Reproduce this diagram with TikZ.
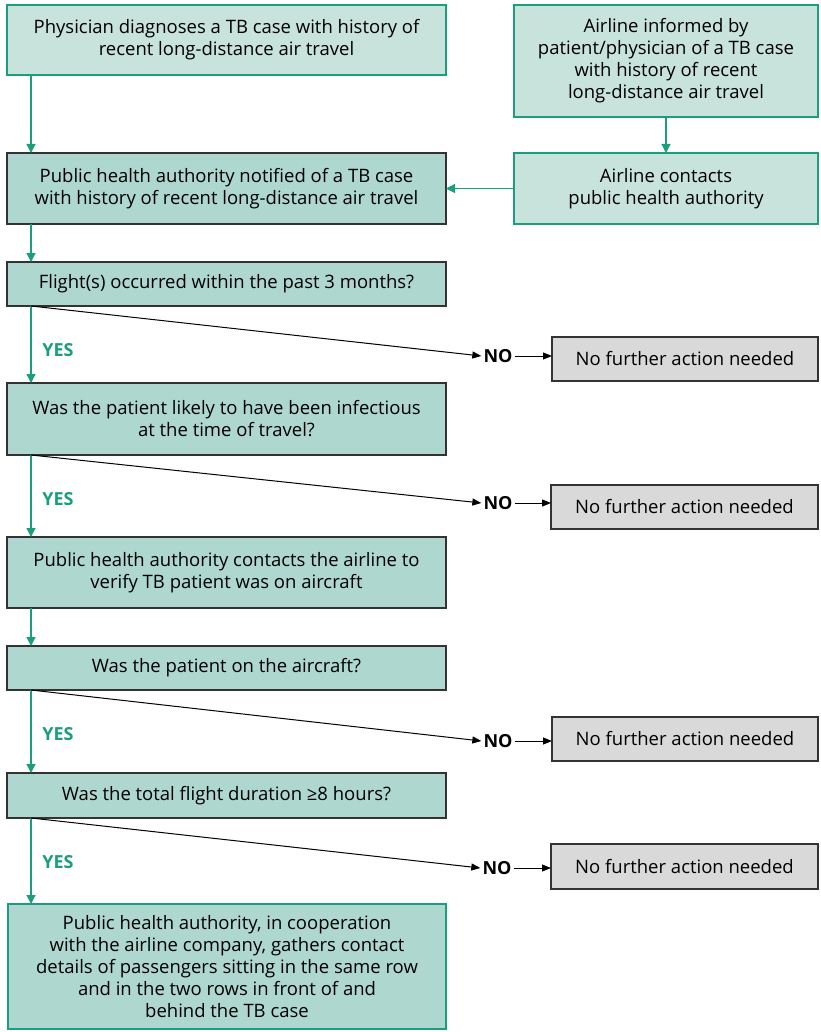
\documentclass[tikz,border=0pt]{standalone}
\usepackage{fontspec}
\setmainfont{Open Sans}
\usepackage{tikz}
\usetikzlibrary{arrows.meta,positioning}
\definecolor{tealline}{RGB}{26,158,126}
\definecolor{palefill}{RGB}{200,227,220}
\definecolor{midfill}{RGB}{174,216,207}
\definecolor{greyfill}{RGB}{217,217,217}
\definecolor{darkline}{RGB}{51,51,51}

\begin{document}
\begin{tikzpicture}[x=1pt,y=-1pt,
    box/.style={rectangle,anchor=north west,align=center,inner sep=0pt,outer sep=0pt,line width=1.4pt,font=\fontsize{18.5}{22}\selectfont},
    inbox/.style={box,draw=tealline,fill=palefill},
    stepbox/.style={box,draw=darkline,fill=midfill},
    endbox/.style={box,draw=darkline,fill=greyfill},
    yarr/.style={draw=tealline,line width=1.2pt,-{Triangle[length=9pt,width=9pt]}},
    narr/.style={draw=black,line width=1pt,-{Triangle[length=9pt,width=7pt]}},
    yes/.style={text=tealline,font=\fontsize{18}{20}\selectfont\bfseries},
    no/.style={text=black,font=\fontsize{18}{20}\selectfont\bfseries,inner sep=2pt}]
   \useasboundingbox (0,0) rectangle (820,1032);
   \coordinate (col) at (31,0);
   % left column
   \node [inbox,minimum width=439,minimum height=70] (phys) at (7,5) {Physician diagnoses a TB case with history of\\recent long-distance air travel};
   \node [stepbox,minimum width=439,minimum height=71] (pha) at (7,153) {Public health authority notified of a TB case\\with history of recent long-distance air travel};
   \node [stepbox,minimum width=439,minimum height=44] (q1) at (7,262) {Flight(s) occurred within the past 3 months?};
   \node [stepbox,minimum width=439,minimum height=72] (q2) at (7,383) {Was the patient likely to have been infectious\\at the time of travel?};
   \node [stepbox,minimum width=439,minimum height=71] (q3) at (7,537) {Public health authority contacts the airline to\\verify TB patient was on aircraft};
   \node [stepbox,minimum width=439,minimum height=44] (q4) at (7,646) {Was the patient on the aircraft?};
   \node [stepbox,minimum width=439,minimum height=45] (q5) at (7,773) {Was the total flight duration ≥8 hours?};
   \node [box,draw=tealline,fill=midfill,line width=2.4pt,minimum width=438,minimum height=125] (final) at (8,904) {Public health authority, in cooperation\\with the airline company, gathers contact\\details of passengers sitting in the same row\\and in the two rows in front of and\\behind the TB case};
   % right column
   \node [inbox,minimum width=304,minimum height=112] (airinf) at (514,5) {Airline informed by\\patient/physician of a TB case\\with history of recent\\long-distance air travel};
   \node [inbox,minimum width=304,minimum height=71] (aircon) at (514,153) {Airline contacts\\public health authority};
   \node [endbox,minimum width=266,minimum height=44] (nf1) at (552,337) {No further action needed};
   \node [endbox,minimum width=267,minimum height=44] (nf2) at (551,485) {No further action needed};
   \node [endbox,minimum width=266,minimum height=44] (nf3) at (552,717) {No further action needed};
   \node [endbox,minimum width=267,minimum height=45] (nf4) at (551,844) {No further action needed};
   % labels
   \node [yes] (yes1) at (58,350) {YES};
   \node [yes] (yes2) at (58,499) {YES};
   \node [yes] (yes3) at (58,734) {YES};
   \node [yes] (yes4) at (58,862) {YES};
   \node [no] (no1) at (498,356) {NO};
   \node [no] (no2) at (498,503) {NO};
   \node [no] (no3) at (498,741) {NO};
   \node [no] (no4) at (497,868) {NO};
   % connectors
   \draw [yarr] (phys.south -| col) -- (pha.north -| col);
   \draw [yarr] (pha.south -| col) -- (q1.north -| col);
   \draw [yarr] (q1.south -| col) -- (q2.north -| col);
   \draw [yarr] (q2.south -| col) -- (q3.north -| col);
   \draw [yarr] (q3.south -| col) -- (q4.north -| col);
   \draw [yarr] (q4.south -| col) -- (q5.north -| col);
   \draw [yarr] (q5.south -| col) -- (final.north -| col);
   \draw [yarr] (airinf.south) -- (aircon.north);
   \draw [yarr] (aircon.west) -- (pha.east);
   \draw [narr] (q1.south -| col) -- (no1.west);
   \draw [narr] (q2.south -| col) -- (no2.west);
   \draw [narr] (q4.south -| col) -- (no3.west);
   \draw [narr] (q5.south -| col) -- (no4.west);
   \draw [narr] (no1.east) -- (no1.east -| nf1.west);
   \draw [narr] (no2.east) -- (no2.east -| nf2.west);
   \draw [narr] (no3.east) -- (no3.east -| nf3.west);
   \draw [narr] (no4.east) -- (no4.east -| nf4.west);
\end{tikzpicture}
\end{document}
